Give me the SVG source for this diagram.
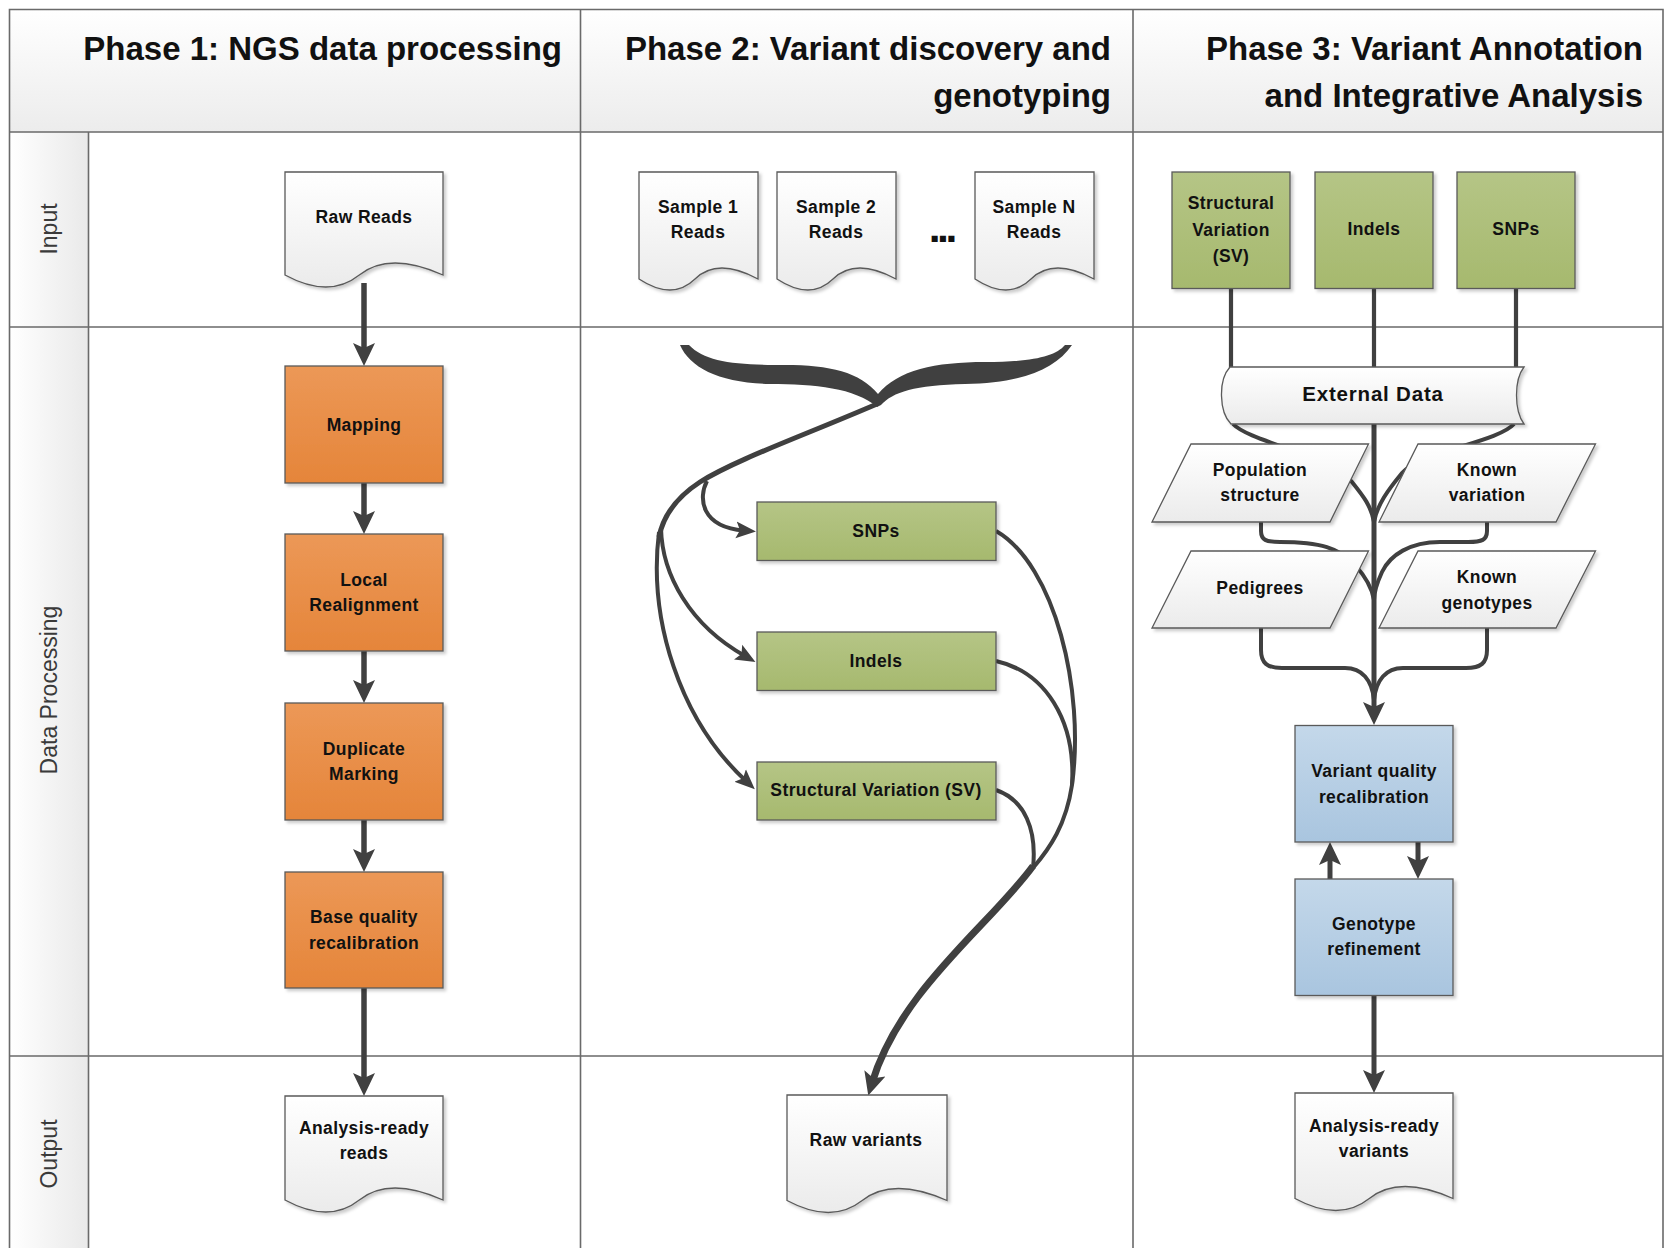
<svg xmlns="http://www.w3.org/2000/svg" width="1665" height="1248" viewBox="0 0 1665 1248">
<style>
.grid{stroke:#6a6a6a;stroke-width:1.6;fill:none}
.hd{font-family:"Liberation Sans",Arial,sans-serif;font-weight:bold;font-size:33px;fill:#111;text-anchor:end}
.ln{font-family:"Liberation Sans",Arial,sans-serif;font-size:23px;fill:#3a3a3a;text-anchor:middle}
.t{font-family:"Liberation Sans",Arial,sans-serif;font-weight:bold;font-size:17.5px;fill:#111;text-anchor:middle;letter-spacing:0.4px}
.shape{stroke:#5a5a5a;stroke-width:1.3}
.c{fill:none;stroke:#404040;stroke-linecap:butt}
</style>
<defs>
<linearGradient id="gHead" x1="0" y1="0" x2="0" y2="1"><stop offset="0" stop-color="#ffffff"/><stop offset="1" stop-color="#ececec"/></linearGradient>
<linearGradient id="gLane" x1="0" y1="0" x2="1" y2="0"><stop offset="0" stop-color="#ffffff"/><stop offset="1" stop-color="#e9e9e9"/></linearGradient>
<linearGradient id="gOr" x1="0" y1="0" x2="0" y2="1"><stop offset="0" stop-color="#ec9857"/><stop offset="1" stop-color="#e5853a"/></linearGradient>
<linearGradient id="gGr" x1="0" y1="0" x2="0" y2="1"><stop offset="0" stop-color="#b5c586"/><stop offset="1" stop-color="#a6b96e"/></linearGradient>
<linearGradient id="gBl" x1="0" y1="0" x2="0" y2="1"><stop offset="0" stop-color="#c4d8ea"/><stop offset="1" stop-color="#a9c5df"/></linearGradient>
<linearGradient id="gWh" x1="0" y1="0" x2="0" y2="1"><stop offset="0" stop-color="#ffffff"/><stop offset="1" stop-color="#ebebeb"/></linearGradient>
<filter id="sh" x="-10%" y="-10%" width="130%" height="130%"><feDropShadow dx="2.5" dy="2.5" stdDeviation="1.5" flood-color="#000" flood-opacity="0.2"/></filter>
<marker id="arr" markerUnits="userSpaceOnUse" markerWidth="24" markerHeight="24" viewBox="0 0 24 24" refX="10" refY="12" orient="auto"><path d="M0,1 L23,12 L0,23 L5,12 Z" fill="#404040"/></marker>
<marker id="arrS" markerUnits="userSpaceOnUse" markerWidth="21" markerHeight="19" viewBox="0 0 21 19" refX="8" refY="9.5" orient="auto"><path d="M0,1 L20,9.5 L0,18 L4,9.5 Z" fill="#404040"/></marker>
</defs>

<g id="swimlanes">
<rect x="9.5" y="9.5" width="1653.5" height="122.5" fill="url(#gHead)"/>
<rect x="9.5" y="132" width="79" height="1116" fill="url(#gLane)"/>
<path class="grid" d="M9.5,1248 V9.5 H1663 V1248 M9.5,132 H1663 M9.5,327 H1663 M9.5,1056 H1663 M88.5,132 V1248 M580.5,9.5 V1248 M1133,9.5 V1248"/>
<text class="hd" x="562" y="60">Phase 1: NGS data processing</text>
<text class="hd" x="1111" y="60">Phase 2: Variant discovery and</text>
<text class="hd" x="1111" y="107">genotyping</text>
<text class="hd" x="1643" y="60">Phase 3: Variant Annotation</text>
<text class="hd" x="1643" y="107">and Integrative Analysis</text>
<text class="ln" transform="translate(57,229) rotate(-90)">Input</text>
<text class="ln" transform="translate(57,690) rotate(-90)">Data Processing</text>
<text class="ln" transform="translate(57,1154) rotate(-90)">Output</text>
</g>

<g id="connectors">
<!-- Phase 1 -->
<path class="c" stroke-width="5.5" marker-end="url(#arr)" d="M364,283 V353"/>
<path class="c" stroke-width="5.5" marker-end="url(#arr)" d="M364,483 V521"/>
<path class="c" stroke-width="5.5" marker-end="url(#arr)" d="M364,651 V690"/>
<path class="c" stroke-width="5.5" marker-end="url(#arr)" d="M364,820 V859"/>
<path class="c" stroke-width="5.5" marker-end="url(#arr)" d="M364,988 V1083"/>
<!-- Phase 2 brace -->
<path fill="#404040" d="M680,345 C690,368 720,383 770,384 C815,384 855,388 877,407 L881,405 C893,392 915,385 965,384 C1020,383 1055,370 1072,345 L1065,345 C1055,357 1030,362 985,362 C935,362 898,370 878,394 C860,372 830,365 785,365 C735,365 705,362 689,345 Z"/>
<path class="c" stroke-width="5" d="M877,404 C800,437 735,460 700,482 C680,495 664,512 659,537"/>
<path class="c" stroke-width="4" marker-end="url(#arrS)" d="M707,481 C698,498 701,527 744,530.5"/>
<path class="c" stroke-width="4" marker-end="url(#arrS)" d="M661,528 C662,575 690,625 745,656"/>
<path class="c" stroke-width="4" marker-end="url(#arrS)" d="M659,532 C648,620 680,720 746,781"/>
<path class="c" stroke-width="4" d="M996,531 C1055,565 1085,690 1072,785 C1066,825 1050,848 1033,868"/>
<path class="c" stroke-width="4" d="M996,661 C1045,672 1076,720 1072,785"/>
<path class="c" stroke-width="4" d="M996,790 C1025,800 1037,830 1033,868"/>
<path class="c" stroke-width="7" marker-end="url(#arr)" d="M1033,866 C990,925 900,990 872,1083"/>
<!-- Phase 3 -->
<path class="c" stroke-width="4.2" d="M1231,288 V368 M1374,288 V368 M1516,288 V368"/>
<path class="c" stroke-width="4" d="M1233,424 C1250,442 1330,455 1352,482 C1364,497 1371,506 1374,522"/>
<path class="c" stroke-width="4" d="M1514,424 C1498,442 1420,452 1402,473 C1388,490 1377,505 1374,522"/>
<path class="c" stroke-width="4" d="M1261,522 V531 C1261,540 1266,542 1280,542 C1320,542 1340,548 1355,565 C1365,576 1372,588 1374,600"/>
<path class="c" stroke-width="4" d="M1487,522 V531 C1487,540 1482,542 1468,542 L1440,542 C1410,542 1390,555 1382,572 C1377,583 1374,592 1374,600"/>
<path class="c" stroke-width="4" d="M1261,628 V650 C1261,663 1267,668 1282,668 H1345 C1362,668 1372,680 1374,700"/>
<path class="c" stroke-width="4" d="M1487,628 V650 C1487,663 1481,668 1466,668 H1403 C1386,668 1376,680 1374,700"/>
<path class="c" stroke-width="5" marker-end="url(#arr)" d="M1374,424 V712"/>
<path class="c" stroke-width="5" marker-end="url(#arr)" d="M1330,879 V855"/>
<path class="c" stroke-width="5" marker-end="url(#arr)" d="M1418,842 V866"/>
<path class="c" stroke-width="5" marker-end="url(#arr)" d="M1374,995 V1080"/>
</g>

<!-- Phase 1 nodes -->
<g id="raw-reads"><path class="shape" fill="url(#gWh)" filter="url(#sh)" d="M285,172 h158 v103 q-53.7,-24 -83.7,0 t-74.3,0 z"/><text class="t" x="364" y="223">Raw Reads</text></g>
<g id="mapping"><rect class="shape" fill="url(#gOr)" filter="url(#sh)" x="285" y="366" width="158" height="117"/><text class="t" x="364" y="431">Mapping</text></g>
<g id="local-realignment"><rect class="shape" fill="url(#gOr)" filter="url(#sh)" x="285" y="534" width="158" height="117"/><text class="t" x="364" y="586">Local</text><text class="t" x="364" y="611">Realignment</text></g>
<g id="duplicate-marking"><rect class="shape" fill="url(#gOr)" filter="url(#sh)" x="285" y="703" width="158" height="117"/><text class="t" x="364" y="755">Duplicate</text><text class="t" x="364" y="780">Marking</text></g>
<g id="base-quality"><rect class="shape" fill="url(#gOr)" filter="url(#sh)" x="285" y="872" width="158" height="116"/><text class="t" x="364" y="923">Base quality</text><text class="t" x="364" y="949">recalibration</text></g>
<g id="analysis-ready-reads"><path class="shape" fill="url(#gWh)" filter="url(#sh)" d="M285,1096 h158 v104 q-53.7,-24 -83.7,0 t-74.3,0 z"/><text class="t" x="364" y="1134">Analysis-ready</text><text class="t" x="364" y="1159">reads</text></g>

<!-- Phase 2 nodes -->
<g id="sample-1"><path class="shape" fill="url(#gWh)" filter="url(#sh)" d="M639,172 h119 v107 q-40.5,-22 -63,0 t-56,0 z"/><text class="t" x="698" y="213">Sample 1</text><text class="t" x="698" y="238">Reads</text></g>
<g id="sample-2"><path class="shape" fill="url(#gWh)" filter="url(#sh)" d="M777,172 h119 v107 q-40.5,-22 -63,0 t-56,0 z"/><text class="t" x="836" y="213">Sample 2</text><text class="t" x="836" y="238">Reads</text></g>
<g id="ellipsis"><text class="t" x="943" y="241" style="font-size:30px;letter-spacing:0px;stroke:#111;stroke-width:1.8px">...</text></g>
<g id="sample-n"><path class="shape" fill="url(#gWh)" filter="url(#sh)" d="M975,172 h119 v107 q-40.5,-22 -63,0 t-56,0 z"/><text class="t" x="1034" y="213">Sample N</text><text class="t" x="1034" y="238">Reads</text></g>
<g id="p2-snps"><rect class="shape" fill="url(#gGr)" filter="url(#sh)" x="757" y="502" width="239" height="58.5"/><text class="t" x="876" y="537">SNPs</text></g>
<g id="p2-indels"><rect class="shape" fill="url(#gGr)" filter="url(#sh)" x="757" y="632" width="239" height="58.5"/><text class="t" x="876" y="667">Indels</text></g>
<g id="p2-sv"><rect class="shape" fill="url(#gGr)" filter="url(#sh)" x="757" y="762" width="239" height="58"/><text class="t" x="876" y="796">Structural Variation (SV)</text></g>
<g id="raw-variants"><path class="shape" fill="url(#gWh)" filter="url(#sh)" d="M787,1095 h160 v105.5 q-54.4,-24 -84.8,0 t-75.2,0 z"/><text class="t" x="866" y="1146">Raw variants</text></g>

<!-- Phase 3 nodes -->
<g id="p3-sv"><rect class="shape" fill="url(#gGr)" filter="url(#sh)" x="1172" y="172" width="118" height="116.5"/><text class="t" x="1231" y="209">Structural</text><text class="t" x="1231" y="236">Variation</text><text class="t" x="1231" y="262">(SV)</text></g>
<g id="p3-indels"><rect class="shape" fill="url(#gGr)" filter="url(#sh)" x="1315" y="172" width="118" height="116.5"/><text class="t" x="1374" y="235">Indels</text></g>
<g id="p3-snps"><rect class="shape" fill="url(#gGr)" filter="url(#sh)" x="1457" y="172" width="118" height="116.5"/><text class="t" x="1516" y="235">SNPs</text></g>
<g id="external-data"><path class="shape" fill="url(#gWh)" filter="url(#sh)" d="M1230,367 H1524 C1514,380 1514,410 1524,424 H1231 C1219,412 1218,380 1230,367 Z"/><text class="t" x="1373" y="401" style="font-size:20.5px;letter-spacing:0.8px">External Data</text></g>
<g id="population-structure"><path class="shape" fill="url(#gWh)" filter="url(#sh)" d="M1191,444 H1368.5 L1330,522 H1152 Z"/><text class="t" x="1260" y="476">Population</text><text class="t" x="1260" y="501">structure</text></g>
<g id="known-variation"><path class="shape" fill="url(#gWh)" filter="url(#sh)" d="M1418,444 H1595.5 L1556,522 H1379 Z"/><text class="t" x="1487" y="476">Known</text><text class="t" x="1487" y="501">variation</text></g>
<g id="pedigrees"><path class="shape" fill="url(#gWh)" filter="url(#sh)" d="M1191,551 H1368.5 L1330,628 H1152 Z"/><text class="t" x="1260" y="594">Pedigrees</text></g>
<g id="known-genotypes"><path class="shape" fill="url(#gWh)" filter="url(#sh)" d="M1418,551 H1595.5 L1556,628 H1379 Z"/><text class="t" x="1487" y="583">Known</text><text class="t" x="1487" y="609">genotypes</text></g>
<g id="variant-quality"><rect class="shape" fill="url(#gBl)" filter="url(#sh)" x="1295" y="725.5" width="158" height="116.5"/><text class="t" x="1374" y="777">Variant quality</text><text class="t" x="1374" y="803">recalibration</text></g>
<g id="genotype-refinement"><rect class="shape" fill="url(#gBl)" filter="url(#sh)" x="1295" y="879" width="158" height="116.5"/><text class="t" x="1374" y="930">Genotype</text><text class="t" x="1374" y="955">refinement</text></g>
<g id="analysis-ready-variants"><path class="shape" fill="url(#gWh)" filter="url(#sh)" d="M1295,1093 h158 v105.5 q-53.7,-24 -83.7,0 t-74.3,0 z"/><text class="t" x="1374" y="1132">Analysis-ready</text><text class="t" x="1374" y="1157">variants</text></g>
</svg>
